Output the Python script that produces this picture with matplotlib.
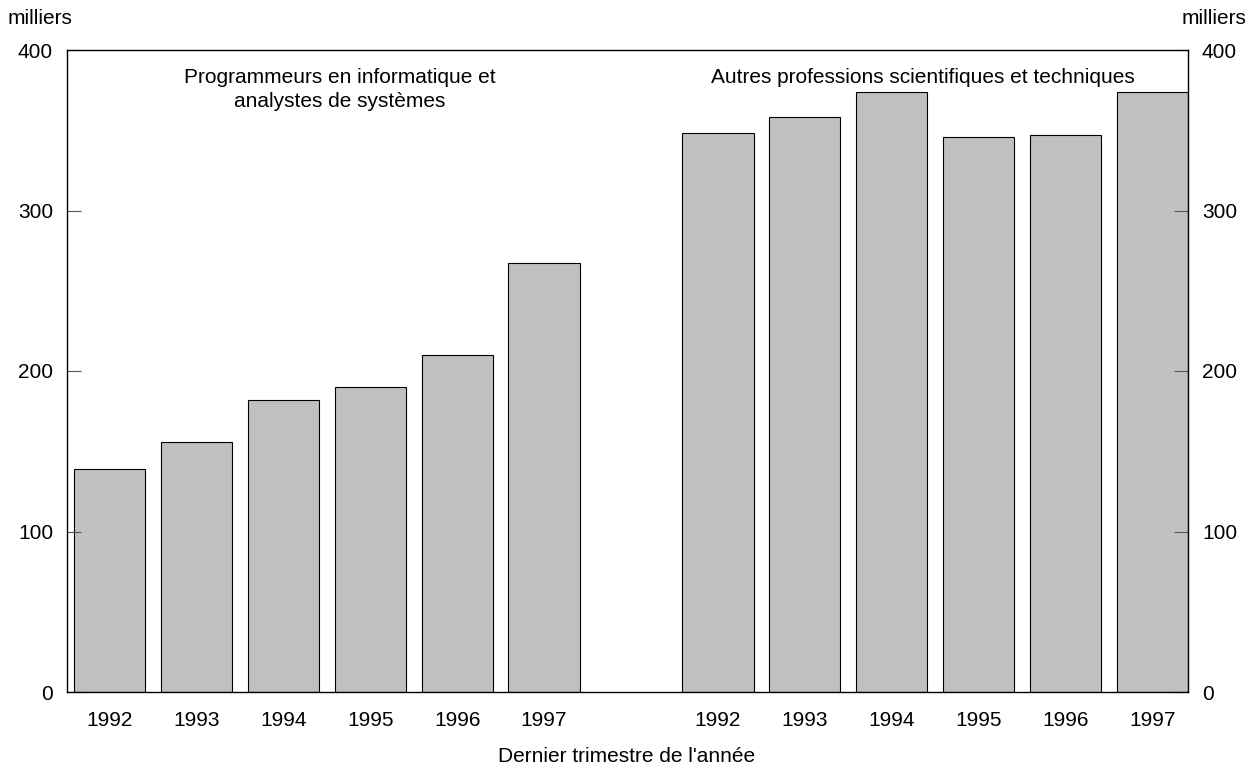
import matplotlib
matplotlib.use("Agg")
import matplotlib.pyplot as plt

years = ["1992", "1993", "1994", "1995", "1996", "1997"]
programmeurs = [139, 156, 182, 190, 210, 267]
autres = [348, 358, 374, 346, 347, 374]

plt.rcParams["font.family"] = ["Liberation Sans", "DejaVu Sans"]
plt.rcParams["font.size"] = 15

fig = plt.figure(figsize=(12.54, 7.65), dpi=100)
ax = fig.add_axes([67 / 1254, 1 - 692 / 765, (1188 - 67) / 1254, (692 - 50) / 765])

pos_left = list(range(len(years)))
pos_right = [p + len(years) + 1 for p in pos_left]

ax.bar(pos_left, programmeurs, width=0.82, color="#c0c0c0", edgecolor="black", linewidth=0.8)
ax.bar(pos_right, autres, width=0.82, color="#c0c0c0", edgecolor="black", linewidth=0.8)

ax.set_xlim(-0.49, pos_right[-1] + 0.41)
ax.set_ylim(0, 400)
ax.set_yticks([0, 100, 200, 300, 400])
ax.set_xticks(pos_left + pos_right)
ax.set_xticklabels(years + years)
ax.tick_params(axis="x", length=0, pad=14)
ax.tick_params(axis="y", direction="in", length=10, width=0.8, color="#555555",
               left=True, right=True, labelleft=True, labelright=True, pad=10)
for s in ax.spines.values():
    s.set_linewidth(1.0)

ax.text(2.65, 389, "Programmeurs en informatique et\nanalystes de systèmes",
        ha="center", va="top", linespacing=1.35)
ax.text(9.36, 389, "Autres professions scientifiques et techniques", ha="center", va="top")

fig.text(8 / 1254, 1 - 18 / 765, "milliers", ha="left", va="center")
fig.text(1246 / 1254, 1 - 18 / 765, "milliers", ha="right", va="center")
fig.text(627 / 1254, 1 - 757 / 765, "Dernier trimestre de l'année", ha="center", va="center")

fig.savefig("out.png", dpi=100)
